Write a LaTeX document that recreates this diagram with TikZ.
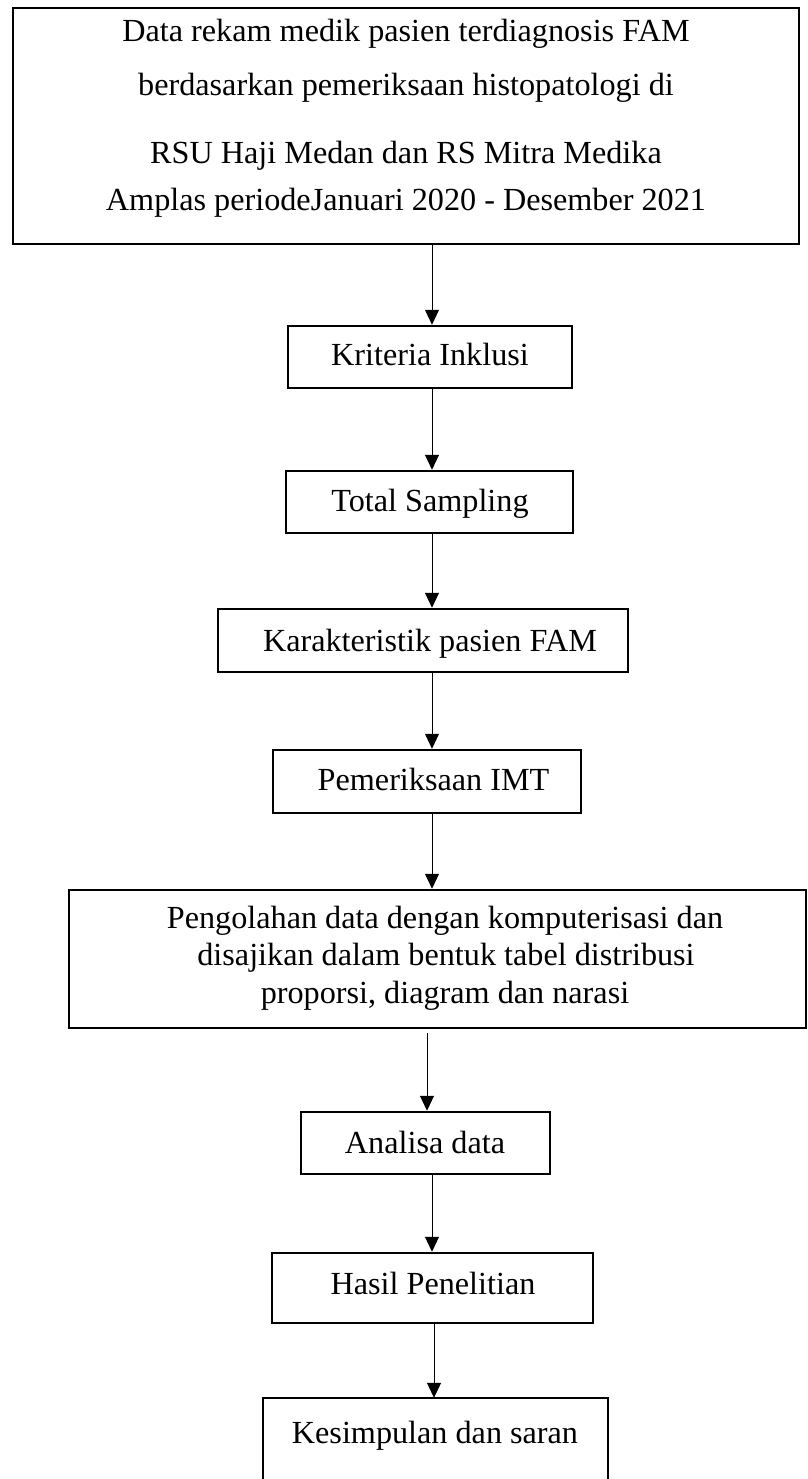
\documentclass[tikz,border=0pt]{standalone}
\usepackage{fontspec}
\setmainfont{Liberation Serif}
\usetikzlibrary{arrows.meta}
\begin{document}
\begin{tikzpicture}[x=1pt,y=-1pt,
  box/.style={draw, line width=2.5pt, inner sep=0pt},
  kbox/.style={inner sep=0pt},
  arr/.style={-{Triangle[width=14pt,length=15pt]}, line width=1pt},
  txt/.style={font=\fontsize{32.2}{38}\selectfont, inner sep=0pt, anchor=base}]
\useasboundingbox (0,0) rectangle (807,1479);
\clip (0,0) rectangle (807,1479);
\fill[white] (0,0) rectangle (807,1479);
% boxes
\node[box, minimum width=786, minimum height=236] (top) at (406,126) {};
\node[box, minimum width=284, minimum height=62] (kri) at (430,357) {};
\node[box, minimum width=287, minimum height=62] (tot) at (429.5,502) {};
\node[box, minimum width=410, minimum height=63] (kar) at (423,640.5) {};
\node[box, minimum width=308, minimum height=63] (pem) at (427,781.5) {};
\node[box, minimum width=737, minimum height=138] (peng) at (437.5,959) {};
\node[box, minimum width=249, minimum height=62] (ana) at (425.5,1143) {};
\node[box, minimum width=321, minimum height=70] (has) at (432.5,1288) {};
\node[kbox, minimum width=345, minimum height=110] (kes) at (435.5,1453) {};
\draw[line width=2.5pt] (kes.south west) |- (kes.north east) -- (kes.south east);
% texts
\node[txt] (t1) at (406,42) {Data rekam medik pasien terdiagnosis FAM};
\node[txt] (t2) at (406,96) {berdasarkan pemeriksaan histopatologi di};
\node[txt] (t3) at (406,164) {RSU Haji Medan dan RS Mitra Medika};
\node[txt] (t4) at (406,211) {Amplas periodeJanuari 2020 - Desember 2021};
\node[txt] (kriT) at (430,365) {Kriteria Inklusi};
\node[txt] (totT) at (430,511) {Total Sampling};
\node[txt] (karT) at (430,651) {Karakteristik pasien FAM};
\node[txt] (pemT) at (433.5,790) {Pemeriksaan IMT};
\node[txt] (pg1) at (445,928) {Pengolahan data dengan komputerisasi dan};
\node[txt] (pg2) at (446,965) {disajikan dalam bentuk tabel distribusi};
\node[txt] (pg3) at (445,1003) {proporsi, diagram dan narasi};
\node[txt] (anaT) at (425,1153) {Analisa data};
\node[txt] (hasT) at (433,1294) {Hasil Penelitian};
\node[txt] (kesT) at (435,1443) {Kesimpulan dan saran};
% arrow columns
\coordinate (ax) at (432,0);
\coordinate (bx) at (427,0);
\coordinate (cx) at (434,0);
% connectors
\draw[arr] (top.south -| ax) -- (kri.north -| ax);
\draw[arr] (kri.south -| ax) -- (tot.north -| ax);
\draw[arr] (tot.south -| ax) -- (kar.north -| ax);
\draw[arr] (kar.south -| ax) -- (pem.north -| ax);
\draw[arr] (pem.south -| ax) -- (peng.north -| ax);
\draw[arr, shorten <=4pt] (peng.south -| bx) -- (ana.north -| bx);
\draw[arr] (ana.south -| ax) -- (has.north -| ax);
\draw[arr] (has.south -| cx) -- (kes.north -| cx);
\end{tikzpicture}
\end{document}
